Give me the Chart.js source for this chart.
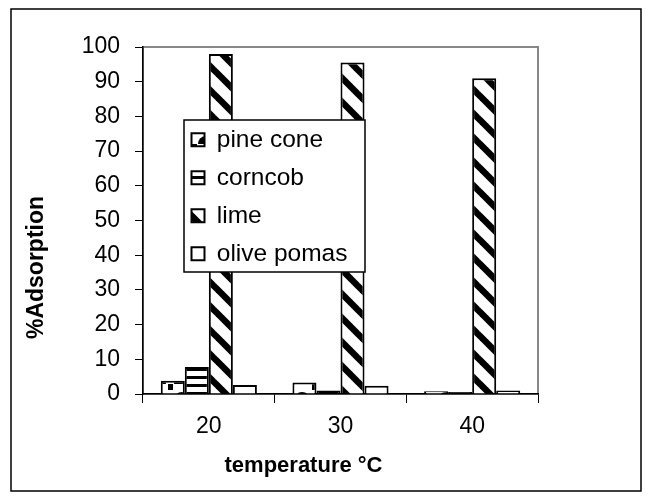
<!DOCTYPE html>
<html>
<head>
<meta charset="utf-8">
<script src="https://cdn.jsdelivr.net/npm/chart.js@4.4.1/dist/chart.umd.min.js"></script>
<style>
  html, body { margin: 0; padding: 0; background: #fff; }
</style>
</head>
<body>
<canvas id="myChart" width="652" height="502"></canvas>
<script>
const temperatures = ['20', '30', '40'];
const pineCone = [3.8, 3.3, 0.8];
const corncob = [7.8, 1.0, 0.6];
const lime = [98.0, 95.5, 91.0];
const olivePomas = [2.6, 2.4, 1.0];

const canvas = document.getElementById('myChart');
const ctx = canvas.getContext('2d');

// small tiles for the hatch fills
function makePattern(w, h, draw) {
  const t = document.createElement('canvas');
  t.width = w;
  t.height = h;
  const c = t.getContext('2d');
  c.fillStyle = '#fff';
  c.fillRect(0, 0, w, h);
  c.fillStyle = '#000';
  c.strokeStyle = '#000';
  draw(c);
  return ctx.createPattern(t, 'repeat');
}

const pinePattern = makePattern(24, 16, c => {
  c.beginPath();
  c.arc(14, 16, 8, Math.PI, 2 * Math.PI);
  c.fill();
  c.fillRect(0, 0, 5, 6);
});
const cornPattern = makePattern(8, 8, c => {
  c.fillRect(0, 0, 8, 3);
});
const limePattern = makePattern(24, 24, c => {
  c.lineWidth = 6.5;
  for (let k = -1; k <= 1; k++) {
    c.beginPath();
    c.moveTo(-4, k * 24 - 4);
    c.lineTo(28, k * 24 + 28);
    c.stroke();
  }
});

const family = "'Liberation Sans', Arial, sans-serif";
const font = {family: family, size: 23};

const frame = {
  id: 'frame',
  beforeDraw(chart) {
    const c = chart.ctx;
    const a = chart.chartArea;
    c.save();
    c.strokeStyle = '#000';
    c.lineWidth = 1.5;
    c.strokeRect(11, 9, 630, 482);
    c.strokeStyle = '#888';
    c.lineWidth = 2;
    c.strokeRect(a.left, a.top, a.right - a.left, a.bottom - a.top);
    c.restore();

    // axis titles sit a bit off-centre in the original
    const shifts = {x: [-37, 0], y: [0, 47]};
    Object.keys(shifts).forEach(id => {
      const s = chart.scales[id];
      if (s._shifted) return;
      const orig = s.drawTitle.bind(s);
      s.drawTitle = function () {
        this.ctx.save();
        this.ctx.translate(shifts[id][0], shifts[id][1]);
        orig();
        this.ctx.restore();
      };
      s._shifted = true;
    });
  }
};

// legend sits inside the plot, on top of the bars
const legendBox = {
  id: 'legendBox',
  afterLayout(chart) {
    const a = chart.chartArea;
    const lg = chart.legend;
    lg.left = a.left + 35;
    lg.top = a.top + 67;
    lg.right = a.left + 222;
    lg.bottom = a.top + 250;
    lg.width = lg.right - lg.left;
    lg.height = lg.bottom - lg.top;
  },
  afterDatasetsDraw(chart) {
    const c = chart.ctx;
    const a = chart.chartArea;
    c.save();
    c.fillStyle = '#fff';
    c.fillRect(a.left + 41, a.top + 73, 181, 152);
    c.strokeStyle = '#000';
    c.lineWidth = 1.5;
    c.strokeRect(a.left + 41, a.top + 73, 181, 152);
    c.restore();
    chart.legend.draw();
  }
};

new Chart(ctx, {
  type: 'bar',
  data: {
    labels: temperatures,
    datasets: [
      {label: 'pine cone', data: pineCone, backgroundColor: pinePattern},
      {label: 'corncob', data: corncob, backgroundColor: cornPattern},
      {label: 'lime', data: lime, backgroundColor: limePattern},
      {label: 'olive pomas', data: olivePomas, backgroundColor: '#fff'}
    ]
  },
  options: {
    responsive: false,
    animation: false,
    layout: {padding: {top: 47, right: 114, left: 0, bottom: 0}},
    datasets: {
      bar: {categoryPercentage: 0.73, barPercentage: 1, borderColor: '#000', borderWidth: 2}
    },
    scales: {
      x: {
        grid: {drawOnChartArea: false, tickLength: 9, color: '#000', offset: true},
        border: {color: '#000', width: 1.5},
        ticks: {color: '#000', font: font, padding: 10},
        title: {display: true, text: 'temperature °C', color: '#000', font: {family: family, size: 22, weight: 'bold'}, padding: {top: 0, bottom: 23}},
        afterFit: s => { s.height = 108; }
      },
      y: {
        min: 0,
        max: 100,
        grid: {drawOnChartArea: false, tickLength: 8, color: '#000'},
        border: {color: '#000', width: 1.5},
        ticks: {stepSize: 10, color: '#000', font: font, padding: 15},
        title: {display: true, text: '%Adsorption', color: '#000', font: {family: family, size: 23, weight: 'bold'}, padding: {top: 23, bottom: 0}},
        afterFit: s => { s.width = 143; }
      }
    },
    plugins: {
      legend: {
        position: 'chartArea',
        align: 'start',
        labels: {boxWidth: 13, boxHeight: 13, padding: 13.5, color: '#000', font: {family: family, size: 24.5}}
      },
      tooltip: {enabled: false}
    }
  },
  plugins: [frame, legendBox]
});
</script>
</body>
</html>
